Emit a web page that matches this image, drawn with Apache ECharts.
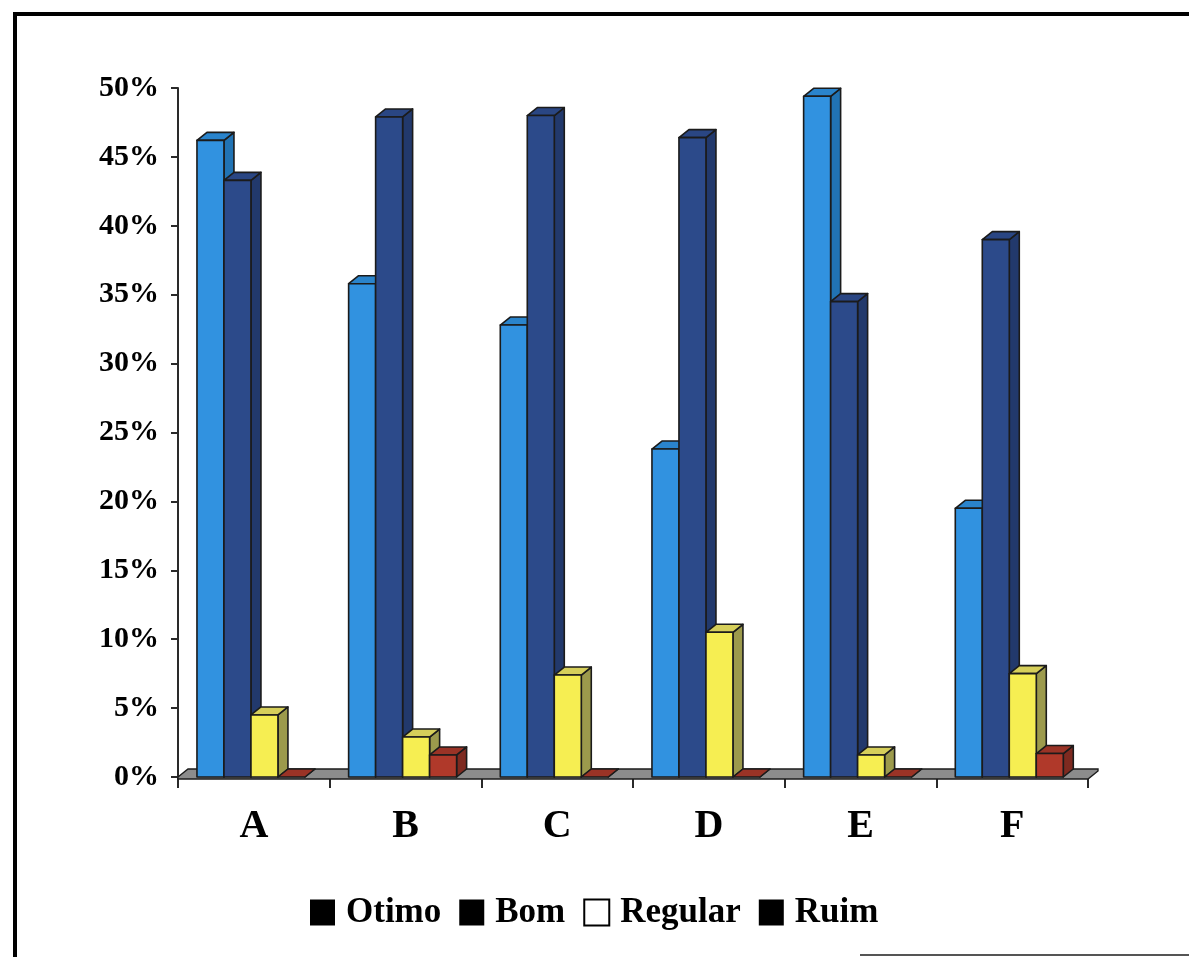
<!DOCTYPE html>
<html>
<head>
<meta charset="utf-8">
<script src="https://cdn.jsdelivr.net/npm/echarts@6/dist/echarts.min.js"></script>
<style>
html,body{margin:0;padding:0;background:#fff;}
#chart{width:1189px;height:957px;}
</style>
</head>
<body>
<div id="chart"></div>
<script>
// ---- data ----
const categories = ['A', 'B', 'C', 'D', 'E', 'F'];
const seriesNames = ['Otimo', 'Bom', 'Regular', 'Ruim'];
const otimo   = [46.2, 35.8, 32.8, 23.8, 49.4, 19.5];
const bom     = [43.3, 47.9, 48.0, 46.4, 34.5, 39.0];
const regular = [4.5, 2.9, 7.4, 10.5, 1.6, 7.5];
const ruim    = [0, 1.6, 0, 0, 0, 1.7];
const yTicks  = [0, 5, 10, 15, 20, 25, 30, 35, 40, 45, 50];

// ---- styles ----
const FONT = 'Liberation Serif';
const DX = 10, DY = 8;            // pseudo-3D depth
const GROUP_OFFSET = 0.125;       // fraction of band before first bar
const BAR_FRAC = 0.178;           // bar width fraction of band
const EDGE = '#1b1b1b';
const palette = [
  {front:'#3192e0', side:'#2173b4', top:'#2a84cc'},
  {front:'#2c4a8a', side:'#22396c', top:'#2a4683'},
  {front:'#f6ee52', side:'#9c9a4c', top:'#d6cf5a'},
  {front:'#b0392a', side:'#7e2a20', top:'#9a3326'}
];
const seriesValues = [otimo, bom, regular, ruim];

function barSeries(idx) {
  const c = palette[idx];
  return {
    type: 'custom',
    name: seriesNames[idx],
    z: 3,
    itemStyle: {color: c.front},
    data: seriesValues[idx].map((v, i) => [i, v]),
    encode: {x: 0, y: 1},
    renderItem: function (params, api) {
      const ci = api.value(0), v = api.value(1);
      const base = api.coord([ci, 0]);
      const top = api.coord([ci, v]);
      const band = api.size([1, 0])[0];
      const bw = band * BAR_FRAC;
      const x0 = base[0] - band / 2 + band * GROUP_OFFSET + idx * bw;
      const x1 = x0 + bw;
      const yb = base[1], yt = top[1];
      const st = {stroke: EDGE, lineWidth: 1.6, lineJoin: 'round'};
      const children = [
        {type: 'polygon', shape: {points: [[x1, yt], [x1 + DX, yt - DY], [x1 + DX, yb - DY], [x1, yb]]},
          style: Object.assign({fill: c.side}, st)},
        {type: 'polygon', shape: {points: [[x0, yt], [x0 + DX, yt - DY], [x1 + DX, yt - DY], [x1, yt]]},
          style: Object.assign({fill: c.top}, st)}
      ];
      if (yb - yt > 0.5) {
        children.push({type: 'rect', shape: {x: x0, y: yt, width: bw, height: yb - yt},
          style: Object.assign({fill: c.front}, st)});
      }
      return {type: 'group', children: children};
    }
  };
}

const floorSeries = {
  type: 'custom',
  name: '_floor',
  z: 2,
  silent: true,
  data: [[0, 0]],
  encode: {x: 0, y: 1},
  renderItem: function (params, api) {
    const band = api.size([1, 0])[0];
    const first = api.coord([0, 0]);
    const last = api.coord([categories.length - 1, 0]);
    const xl = first[0] - band / 2, xr = last[0] + band / 2, y = first[1];
    return {
      type: 'group',
      children: [
        {type: 'polygon', shape: {points: [[xl, y], [xl + DX, y - DY], [xr + DX, y - DY], [xr + DX, y - DY + 2], [xr, y + 2], [xl, y + 2]]},
          style: {fill: '#8c8c8c', stroke: EDGE, lineWidth: 1.4}}
      ]
    };
  }
};

const chart = echarts.init(document.getElementById('chart'), null, {renderer: 'canvas'});
chart.setOption({
  backgroundColor: '#ffffff',
  animation: false,
  grid: {left: 178, right: 101, top: 88, bottom: 180, containLabel: false},
  xAxis: {
    type: 'category',
    data: categories,
    boundaryGap: true,
    axisLine: {show: true, lineStyle: {color: '#2a2a2a', width: 1.5}},
    axisTick: {show: true, length: 11, interval: 0, lineStyle: {color: '#2a2a2a', width: 2}},
    axisLabel: {margin: 30, fontFamily: FONT, fontWeight: 'bold', fontSize: 40, color: '#000'},
    splitLine: {show: false}
  },
  yAxis: {
    type: 'value',
    min: yTicks[0],
    max: yTicks[yTicks.length - 1],
    interval: yTicks[1] - yTicks[0],
    axisLine: {show: true, lineStyle: {color: '#2a2a2a', width: 2}},
    axisTick: {show: true, length: 7, lineStyle: {color: '#2a2a2a', width: 2}},
    axisLabel: {margin: 19, fontFamily: FONT, fontWeight: 'bold', fontSize: 30, color: '#000',
      formatter: '{value}%'},
    splitLine: {show: false}
  },
  legend: {
    left: 305,
    top: 890,
    icon: 'rect',
    itemWidth: 25,
    itemHeight: 26,
    itemGap: 18,
    selectedMode: false,
    textStyle: {fontFamily: FONT, fontWeight: 'bold', fontSize: 35, color: '#000', padding: [0, 0, 0, 6]},
    data: [
      {name: 'Otimo', itemStyle: {color: '#000', borderWidth: 0}},
      {name: 'Bom', itemStyle: {color: '#000', borderWidth: 0}},
      {name: 'Regular', itemStyle: {color: '#fff', borderColor: '#000', borderWidth: 2}},
      {name: 'Ruim', itemStyle: {color: '#000', borderWidth: 0}}
    ]
  },
  graphic: [
    {type: 'rect', shape: {x: 13, y: 12, width: 4, height: 945}, style: {fill: '#000'}, silent: true},
    {type: 'rect', shape: {x: 13, y: 12, width: 1176, height: 4}, style: {fill: '#000'}, silent: true},
    {type: 'rect', shape: {x: 860, y: 954, width: 329, height: 2}, style: {fill: '#555'}, silent: true}
  ],
  series: [floorSeries, barSeries(0), barSeries(1), barSeries(2), barSeries(3)]
});
</script>
</body>
</html>
